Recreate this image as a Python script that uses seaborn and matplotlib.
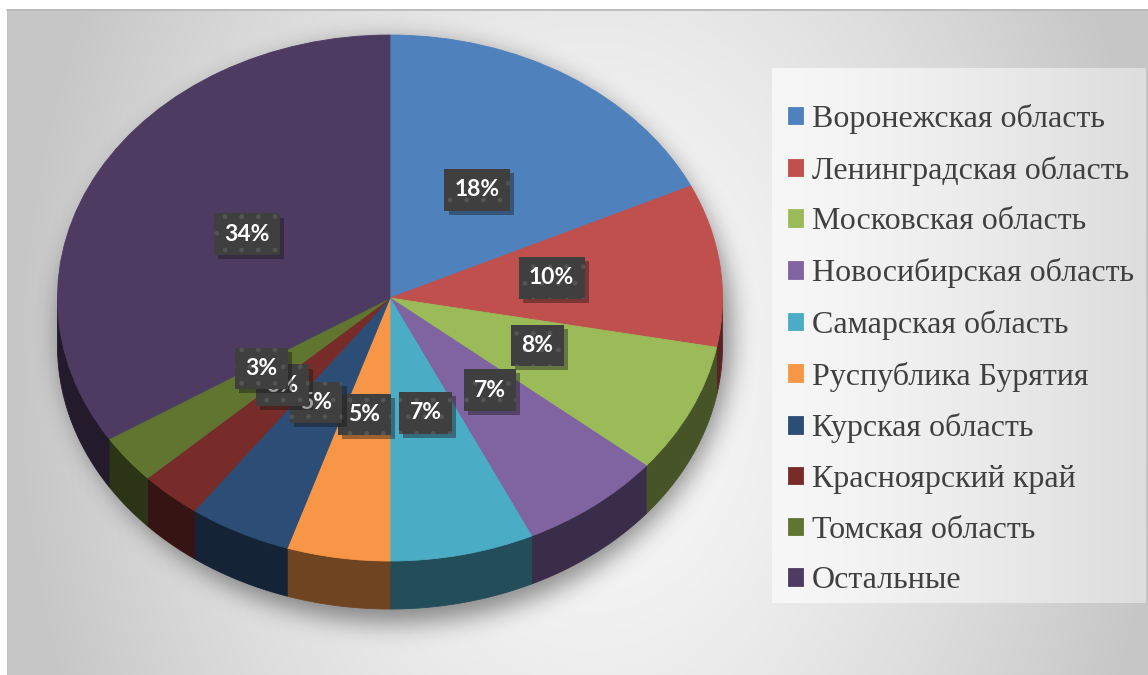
import numpy as np
import matplotlib
matplotlib.use("Agg")
import matplotlib.pyplot as plt
import matplotlib.patheffects as pe
from matplotlib.colors import to_rgb
import seaborn as sns

# ---- data -------------------------------------------------------------
regions = [
    "Воронежская область",
    "Ленинградская область",
    "Московская область",
    "Новосибирская область",
    "Самарская область",
    "Руспублика Бурятия",
    "Курская область",
    "Красноярский край",
    "Томская область",
    "Остальные",
]
shares = [18, 10, 8, 7, 7, 5, 5, 3, 3, 34]
colors = ["#4F81BD", "#C0504D", "#9BBB59", "#8064A2", "#4BACC6",
          "#F79646", "#2C4D75", "#772C2A", "#5F7530", "#4D3B62"]

sns.set_theme(style="white")
plt.rcParams["font.family"] = ["Liberation Serif", "DejaVu Sans"]
plt.rcParams["hatch.linewidth"] = 1.0

W, H = 1148, 675
fig = plt.figure(figsize=(W / 100, H / 100), dpi=100)
fig.patch.set_facecolor("white")

# ---- background panel with soft gradient and pie shadow -----------------
bg = fig.add_axes([0, 0, 1, 1])
bg.set_xlim(0, W)
bg.set_ylim(H, 0)
bg.axis("off")

x0, y0 = 7, 9
gx = np.arange(x0, W) + 0.5
gy = np.arange(y0, H) + 0.5
GX, GY = np.meshgrid(gx, gy)
u = (GX - 590) / 575
v = (GY - 380) / 340
t = np.clip(np.sqrt(u ** 2 + 0.18 * v ** 2), 0, 1) ** 1.5
lum = (249 - (249 - 198) * t) / 255
panel = np.dstack([lum, lum, lum])
bg.imshow(panel, extent=(x0, W, H, y0), origin="upper", interpolation="bilinear", zorder=0)
bg.plot([x0, W], [y0 + 0.5, y0 + 0.5], color="#B8B8B8", lw=1.2, zorder=1)

# pie geometry in pixels (top face ellipse)
cx, cy, rx, ry, depth_px = 390.0, 298.0, 332.5, 263.0, 48.0

# soft drop shadow under the pie
FX, FY = np.meshgrid(np.arange(W) + 0.5, np.arange(H) + 0.5)
mask = (((FX - (cx + 6)) / (rx + 4)) ** 2 +
        ((FY - (cy + depth_px / 2 + 10)) / (ry + depth_px / 2 + 4)) ** 2 <= 1).astype(float)
k = np.exp(-0.5 * (np.arange(-36, 37) / 12.0) ** 2)
k /= k.sum()
blur = np.apply_along_axis(lambda r: np.convolve(r, k, mode="same"), 1, mask)
blur = np.apply_along_axis(lambda c: np.convolve(c, k, mode="same"), 0, blur)
shadow = np.zeros((H, W, 4))
shadow[..., 3] = 0.42 * blur
shadow[:y0, :, 3] = 0
shadow[:, :x0, 3] = 0
bg.imshow(shadow, extent=(0, W, H, 0), origin="upper", zorder=2)

# legend panel
lx0, lx1, ly0, ly1 = 772, 1146, 68, 603
lgrad = np.linspace(0, 1, 200)
llum = (247 - 26 * lgrad ** 1.3) / 255
lpanel = np.dstack([np.tile(llum, (10, 1))] * 3)
bg.imshow(lpanel, extent=(lx0, lx1, ly1, ly0), origin="upper", aspect="auto", zorder=3)
bg.set_xlim(0, W)
bg.set_ylim(H, 0)

# ---- pie axes: data units map to an ellipse via non-equal aspect -----
xl = (-1.15, 1.15)
yl = (-1.35, 1.10)
ax_w = (xl[1] - xl[0]) * rx
ax_h = (yl[1] - yl[0]) * ry
ax_left = cx + xl[0] * rx
ax_bottom = (H - cy) + yl[0] * ry
ax = fig.add_axes([ax_left / W, ax_bottom / H, ax_w / W, ax_h / H])
ax.patch.set_alpha(0)

wedges, _, autotexts = ax.pie(
    shares, colors=colors, startangle=90, counterclock=False, radius=1,
    autopct=lambda p: f"{p:.0f}%", pctdistance=0.5,
    wedgeprops=dict(linewidth=0.6),
)
for w in wedges:
    w.set_edgecolor(w.get_facecolor())
    w.set_zorder(3)

# visible outer wall of each slice (lower half of the rim)
depth = depth_px / ry
total = float(sum(shares))
cum = np.concatenate([[0], np.cumsum(shares)]) / total
mids = []
for i, col in enumerate(colors):
    a_start = 90 - 360 * cum[i]
    a_end = 90 - 360 * cum[i + 1]
    mids.append(np.radians((a_start + a_end) / 2))
    th = np.linspace(a_end, a_start, 400)
    vis = np.sin(np.radians(th)) <= 1e-9
    if not vis.any():
        continue
    idx = np.where(vis)[0]
    segs = np.split(idx, np.where(np.diff(idx) > 1)[0] + 1)
    base = np.array(to_rgb(col))
    side = base * 0.45
    for s in segs:
        tt = np.radians(th[s])
        xs = np.cos(tt)
        ys = np.sin(tt)
        px = np.concatenate([xs, xs[::-1]])
        py = np.concatenate([ys, ys[::-1] - depth])
        ax.fill(px, py, color=side, lw=0.6, ec=side, zorder=2)

ax.set_aspect("auto")
ax.set_xlim(*xl)
ax.set_ylim(*yl)
ax.axis("off")

# percentage labels in dark boxes (slightly foreshortened toward the viewer)
for tx, m in zip(autotexts, mids):
    tx.set_position((0.49 * np.cos(m), 0.466 * np.sin(m) + 0.018))
    tx.set_color("white")
    tx.set_fontsize(16.5)
    tx.set_fontweight("bold")
    tx.set_family(["Lato", "DejaVu Sans"])
    tx.set_zorder(6)
    tx.set_bbox(dict(boxstyle="square,pad=0.45", facecolor="#3F3F3F",
                     edgecolor="#545454", linewidth=0, hatch="."))
    tx.get_bbox_patch().set_path_effects(
        [pe.SimplePatchShadow(offset=(3, -3), alpha=0.4, hatch=None), pe.Normal()])

# ---- legend -------------------------------------------------------------
fs = 23
fig.legend(
    wedges, regions,
    loc="upper left", bbox_to_anchor=(788 / W, 1 - 104 / H),
    frameon=False, borderpad=0, borderaxespad=0,
    prop=dict(family="Liberation Serif", size=fs),
    labelcolor="#404040",
    handlelength=0.47, handleheight=0.47, handletextpad=0.27,
    labelspacing=0.68,
)

fig.savefig("out.png", dpi=100)
